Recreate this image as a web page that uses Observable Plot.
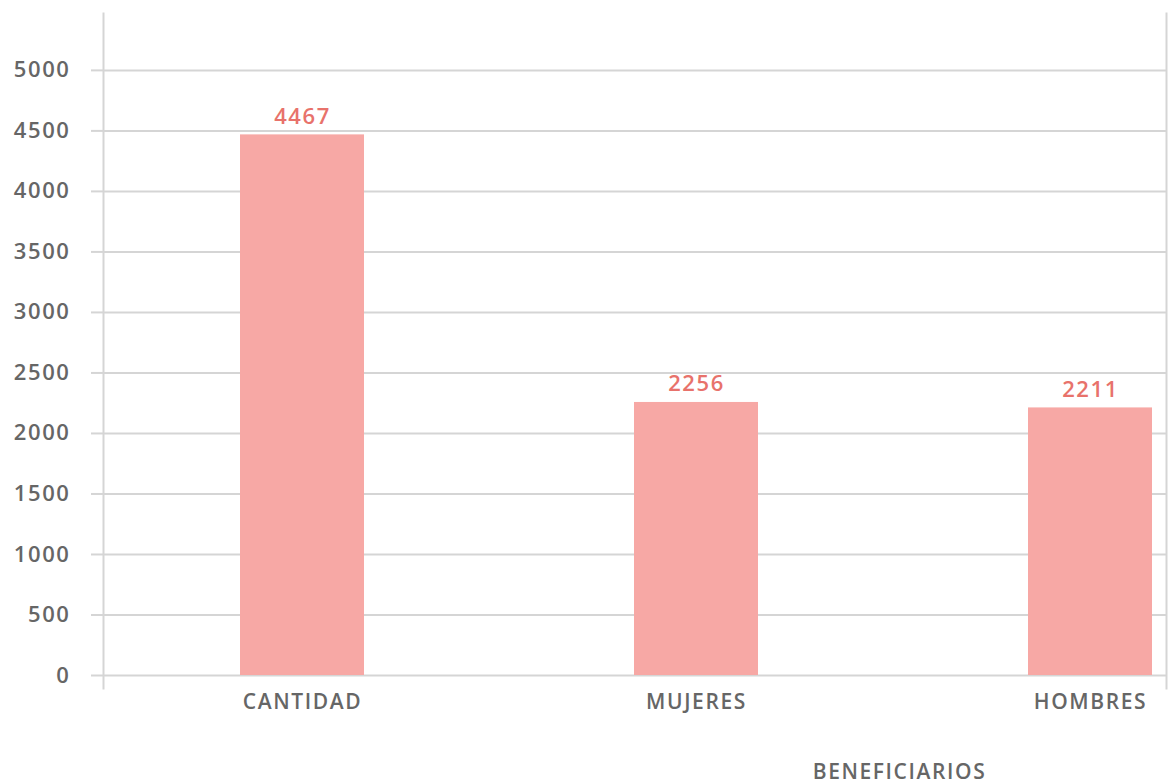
<!DOCTYPE html>
<html>
<head>
<meta charset="utf-8">
<script src="https://cdn.jsdelivr.net/npm/d3@7"></script>
<script src="https://cdn.jsdelivr.net/npm/@observablehq/plot@0.6"></script>
<style>
  html, body { margin: 0; padding: 0; background: #ffffff; }
  #chart svg { display: block; }
  #chart svg text { letter-spacing: 1.6px; }
</style>
</head>
<body>
<div id="chart"></div>
<script>
const categories = ["CANTIDAD", "MUJERES", "HOMBRES"];
const values = [4467, 2256, 2211];
const yTicks = [0, 500, 1000, 1500, 2000, 2500, 3000, 3500, 4000, 4500, 5000];
const xTitle = "BENEFICIARIOS";

const data = categories.map((c, i) => ({category: c, value: values[i]}));

const gridColor = "#d5d5d5";
const textColor = "#666666";
const barColor = "#f7a8a5";
const labelColor = "#e8726b";

const chart = Plot.plot({
  width: 1169,
  height: 784,
  marginLeft: 103,
  marginRight: 3,
  marginTop: 13,
  marginBottom: 96,
  style: {fontFamily: "'Open Sans', sans-serif", fontWeight: 600, fontSize: "21px", color: textColor, background: "#ffffff"},
  x: {domain: categories, range: [104, 1288], paddingInner: 0.685, paddingOuter: 0.3425},
  y: {domain: [0, 5470], range: [675, 13]},
  marks: [
    Plot.ruleY(yTicks, {stroke: gridColor, strokeWidth: 2}),
    Plot.axisY({ticks: yTicks, tickSize: 12, tickPadding: 21, stroke: gridColor, strokeWidth: 2, strokeOpacity: 1, fill: textColor, fontSize: 22, fontWeight: 600, label: null, tickFormat: d => String(d)}),
    Plot.frame({anchor: "left", stroke: gridColor, strokeWidth: 2}),
    Plot.frame({anchor: "right", stroke: gridColor, strokeWidth: 2}),
    Plot.barY(data, {x: "category", y: "value", fill: barColor}),
    Plot.text(data, {x: "category", y: "value", text: d => String(d.value), fill: labelColor, fontSize: 22, fontWeight: 600, lineAnchor: "bottom", dy: -11}),
    Plot.axisX({tickSize: 0, tickPadding: 6, fill: textColor, fontSize: 21, fontWeight: 600, label: null}),
    Plot.text([xTitle], {frameAnchor: "bottom-right", text: d => d, fill: textColor, fontSize: 21, fontWeight: 600, textAnchor: "middle", lineAnchor: "middle", dx: -267, dy: 84})
  ]
});

document.getElementById("chart").appendChild(chart);
</script>
</body>
</html>
